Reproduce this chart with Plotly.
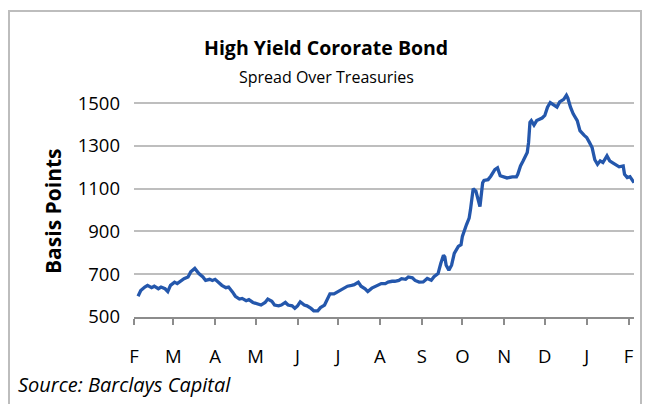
import plotly.graph_objects as go

# ---- data ----
dates = [
    "2008-02-04", "2008-02-06", "2008-02-09", "2008-02-11", "2008-02-14", "2008-02-16",
    "2008-02-19", "2008-02-21", "2008-02-24", "2008-02-26", "2008-02-28",
    "2008-03-02", "2008-03-04", "2008-03-07", "2008-03-09", "2008-03-12", "2008-03-14",
    "2008-03-17", "2008-03-18", "2008-03-20", "2008-03-23", "2008-03-25", "2008-03-28",
    "2008-03-30", "2008-04-01", "2008-04-04", "2008-04-06", "2008-04-09", "2008-04-11",
    "2008-04-14", "2008-04-16", "2008-04-19", "2008-04-21", "2008-04-24", "2008-04-26",
    "2008-04-29", "2008-05-03", "2008-05-05", "2008-05-08", "2008-05-10", "2008-05-13",
    "2008-05-15", "2008-05-18", "2008-05-20", "2008-05-23", "2008-05-25", "2008-05-28",
    "2008-05-30", "2008-06-01", "2008-06-03", "2008-06-06", "2008-06-08", "2008-06-11",
    "2008-06-13", "2008-06-16", "2008-06-18", "2008-06-21", "2008-06-23", "2008-06-25",
    "2008-06-28", "2008-07-01", "2008-07-03", "2008-07-06", "2008-07-08", "2008-07-11",
    "2008-07-13", "2008-07-16", "2008-07-18", "2008-07-21", "2008-07-23", "2008-07-26",
    "2008-07-28", "2008-07-31", "2008-08-02", "2008-08-05", "2008-08-07", "2008-08-10",
    "2008-08-12", "2008-08-15", "2008-08-17", "2008-08-20", "2008-08-22", "2008-08-25",
    "2008-08-27", "2008-08-30", "2008-09-02", "2008-09-05", "2008-09-08", "2008-09-10",
    "2008-09-13", "2008-09-15", "2008-09-17", "2008-09-18", "2008-09-19", "2008-09-21",
    "2008-09-23", "2008-09-25", "2008-09-28", "2008-09-30", "2008-10-01", "2008-10-04",
    "2008-10-06", "2008-10-07", "2008-10-09", "2008-10-11", "2008-10-12", "2008-10-14",
    "2008-10-16", "2008-10-17", "2008-10-20", "2008-10-22", "2008-10-25", "2008-10-27",
    "2008-10-29", "2008-11-03", "2008-11-07", "2008-11-10", "2008-11-11", "2008-11-13",
    "2008-11-15", "2008-11-18", "2008-11-19", "2008-11-20", "2008-11-21", "2008-11-23",
    "2008-11-25", "2008-11-29", "2008-12-01", "2008-12-03", "2008-12-05", "2008-12-07",
    "2008-12-10", "2008-12-12", "2008-12-15", "2008-12-17", "2008-12-18", "2008-12-20",
    "2008-12-22", "2008-12-25", "2008-12-27", "2008-12-30", "2009-01-01", "2009-01-03",
    "2009-01-05", "2009-01-07", "2009-01-09", "2009-01-11", "2009-01-13", "2009-01-16",
    "2009-01-18", "2009-01-20", "2009-01-23", "2009-01-25", "2009-01-28", "2009-01-29",
    "2009-01-31", "2009-02-02", "2009-02-05",
]
spread_bp = [
    597, 624, 640, 648, 637, 644,
    632, 640, 632, 619, 648,
    663, 656, 671, 679, 687, 711,
    727, 719, 703, 687, 671, 676,
    671, 676, 656, 648, 637, 640,
    616, 597, 584, 587, 576, 581,
    568, 560, 556, 568, 584, 573,
    556, 552, 556, 568, 556, 552,
    541, 552, 571, 556, 552, 540,
    529, 529, 544, 556, 584, 608,
    608, 619, 627, 637, 644, 648,
    651, 663, 644, 632, 619, 635,
    640, 648, 656, 656, 663, 667,
    667, 671, 679, 676, 687, 683,
    671, 663, 664, 680, 672, 688,
    703, 750, 789, 781, 742, 719,
    742, 797, 830, 838, 877, 931,
    962, 1002, 1100, 1088, 1064, 1016,
    1127, 1138, 1142, 1158, 1189, 1197,
    1160, 1150, 1155, 1155, 1167, 1206,
    1230, 1269, 1316, 1410, 1418, 1397,
    1418, 1430, 1442, 1481, 1502, 1492,
    1481, 1505, 1517, 1536, 1524, 1481,
    1450, 1418, 1371, 1350, 1339, 1316,
    1292, 1235, 1214, 1230, 1222, 1253,
    1230, 1222, 1210, 1202, 1206, 1167,
    1152, 1156, 1128,
]
month_ticks = ["2008-02-01", "2008-03-01", "2008-04-01", "2008-05-01", "2008-06-01",
               "2008-07-01", "2008-08-01", "2008-09-01", "2008-10-01", "2008-11-01",
               "2008-12-01", "2009-01-01", "2009-02-01"]
month_labels = ["F", "M", "A", "M", "J", "J", "A", "S", "O", "N", "D", "J", "F"]
y_ticks = [500, 700, 900, 1100, 1300, 1500]

# page body adds an 8px offset; work in target-pixel coords and shift
OFF = 8
W, H = 651 - OFF, 404 - OFF
PL, PR, PT, PB = 134, 634, 90, 317   # plot area in target pixels
L, T = PL - OFF, PT - OFF
R, B = W - (PR - OFF), H - (PB - OFF)
PW, PH = W - L - R, H - T - B

def px(x):
    return (x - OFF - L) / PW

def py(y):
    return (H - B - (y - OFF)) / PH

FONT = "Open Sans"

fig = go.Figure()
fig.add_trace(go.Scatter(
    x=dates, y=spread_bp, mode="lines",
    line=dict(color="#2457AC", width=3.3),
    hoverinfo="skip", showlegend=False,
))

fig.update_layout(
    width=W, height=H,
    margin=dict(l=L, r=R, t=T, b=B, pad=0),
    paper_bgcolor="white", plot_bgcolor="white",
    font=dict(family=FONT, size=18, color="black"),
    showlegend=False,
    xaxis=dict(
        type="date", range=["2008-02-01", "2009-02-05"],
        tickvals=month_ticks, ticktext=month_labels,
        showgrid=False, zeroline=False,
        showline=True, linecolor="#8C8C8C", linewidth=1.5,
        ticks="outside", ticklen=6, tickwidth=1.5, tickcolor="#8C8C8C",
        ticklabelstandoff=16,
        tickfont=dict(family=FONT, size=18.5, color="black"),
    ),
    yaxis=dict(
        range=[500, 1561], tickvals=y_ticks,
        showgrid=True, gridcolor="#BEBEBE", gridwidth=1.5,
        zeroline=False, showline=False, ticks="",
        ticklabelstandoff=13,
        tickfont=dict(family=FONT, size=18.5, color="black"),
    ),
    annotations=[
        dict(text="<b>High Yield Cororate Bond</b>", xref="paper", yref="paper",
             x=px(326), y=py(47), xanchor="center", yanchor="middle", showarrow=False,
             font=dict(family=FONT, size=19.5, color="black")),
        dict(text="Spread Over Treasuries", xref="paper", yref="paper",
             x=px(326), y=py(77), xanchor="center", yanchor="middle", showarrow=False,
             font=dict(family=FONT, size=16, color="black")),
        dict(text="<b>Basis Points</b>", xref="paper", yref="paper",
             x=px(53), y=py(211), xanchor="center", yanchor="middle", showarrow=False,
             textangle=-90, font=dict(family=FONT, size=21, color="black")),
        dict(text="<i>Source: Barclays Capital</i>", xref="paper", yref="paper",
             x=px(16), y=py(384), xanchor="left", yanchor="middle", showarrow=False,
             font=dict(family=FONT, size=20, color="black")),
    ],
    shapes=[
        dict(type="line", xref="paper", yref="paper", x0=px(8), x1=px(642),
             y0=py(11), y1=py(11), line=dict(color="#BDBDBD", width=2)),
        dict(type="line", xref="paper", yref="paper", x0=px(9), x1=px(9),
             y0=py(11), y1=py(410), line=dict(color="#BDBDBD", width=2)),
        dict(type="line", xref="paper", yref="paper", x0=px(641), x1=px(641),
             y0=py(11), y1=py(410), line=dict(color="#BDBDBD", width=2)),
    ],
)

fig.write_html("out.html")
